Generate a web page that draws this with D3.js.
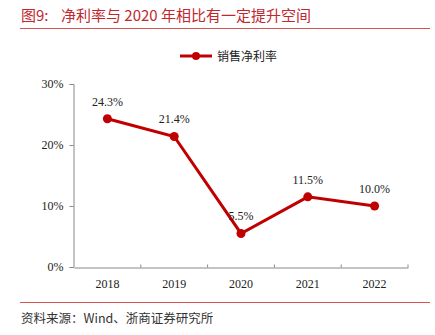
<!DOCTYPE html>
<html>
<head>
<meta charset="utf-8">
<script src="https://cdn.jsdelivr.net/npm/d3@7"></script>
<style>
  body { margin: 0; background: #fff; }
  text { font-family: "Liberation Serif", "Noto Serif CJK SC", "Noto Sans CJK SC", serif; }
</style>
</head>
<body>
<script>
var w = 435;
var h = 335;

var years = ["2018", "2019", "2020", "2021", "2022"];
var netMargin = [24.3, 21.4, 5.5, 11.5, 10.0];
var yTicks = [0, 10, 20, 30];
var seriesName = "销售净利率";
var red = "#c00000";

var svg = d3.select("body").append("svg").attr("width", w).attr("height", h);

// title + rules
svg.append("text").attr("x", 21).attr("y", 21)
    .style("font-size", "15px").style("fill", "#c0282d")
    .style("font-family", "'Noto Sans CJK SC', sans-serif")
    .text("图9:");
svg.append("text").attr("x", 61).attr("y", 21)
    .style("font-size", "15px").style("fill", "#c0282d")
    .style("font-family", "'Noto Sans CJK SC', sans-serif")
    .text("净利率与 2020 年相比有一定提升空间");
svg.append("line").attr("x1", 20).attr("x2", 430).attr("y1", 28.5).attr("y2", 28.5)
    .style("stroke", "#d9534f").style("stroke-width", 1);
svg.append("line").attr("x1", 20).attr("x2", 430).attr("y1", 302.5).attr("y2", 302.5)
    .style("stroke", "#d9534f").style("stroke-width", 1);
svg.append("text").attr("x", 21).attr("y", 323)
    .style("font-size", "12.5px").style("fill", "#333")
    .style("font-family", "'Noto Sans CJK SC', sans-serif")
    .text("资料来源：Wind、浙商证券研究所");

var x = d3.scaleBand().domain(years).range([74, 408]);
var y = d3.scaleLinear().domain([0, 30]).range([267, 84]);

var xAxis = svg.append("g").attr("transform", "translate(0,267.5)")
    .call(d3.axisBottom(x).tickSize(0).tickPadding(12));
xAxis.select(".domain").style("stroke", "#888");
xAxis.selectAll("text").style("font-size", "12px").style("fill", "#222")
    .style("font-family", "'Liberation Serif', serif");
xAxis.selectAll(".sep").data(years).enter().append("line")
    .attr("x1", function (d) { return x(d) + x.bandwidth(); })
    .attr("x2", function (d) { return x(d) + x.bandwidth(); })
    .attr("y1", 0).attr("y2", -3).style("stroke", "#888");

var yAxis = svg.append("g").attr("transform", "translate(73.5,0)")
    .call(d3.axisLeft(y).tickValues(yTicks).tickSize(4).tickPadding(6)
        .tickFormat(function (d) { return d + "%"; }));
yAxis.select(".domain").style("stroke", "#888");
yAxis.selectAll("line").style("stroke", "#888");
yAxis.selectAll("text").style("font-size", "12px").style("fill", "#222")
    .style("font-family", "'Liberation Serif', serif");

var cx = function (d, i) { return x(years[i]) + x.bandwidth() / 2; };

var line = d3.line()
    .x(function (d, i) { return cx(d, i); })
    .y(function (d) { return y(d); });

svg.append("path").datum(netMargin).attr("d", line)
    .style("fill", "none").style("stroke", red).style("stroke-width", 3);

svg.selectAll("circle.pt").data(netMargin).enter().append("circle")
    .attr("class", "pt")
    .attr("cx", cx).attr("cy", function (d) { return y(d); })
    .attr("r", 4.5).style("fill", red);

svg.selectAll("text.lbl").data(netMargin).enter().append("text")
    .attr("class", "lbl")
    .attr("x", cx).attr("y", function (d) { return y(d) - 13; })
    .attr("text-anchor", "middle")
    .style("font-size", "12px").style("fill", "#222")
    .style("font-family", "'Liberation Serif', serif")
    .text(function (d) { return d.toFixed(1) + "%"; });

// legend
var lg = svg.append("g").attr("transform", "translate(180,56)");
lg.append("line").attr("x1", 0).attr("x2", 32).attr("y1", 0).attr("y2", 0)
    .style("stroke", red).style("stroke-width", 3);
lg.append("circle").attr("cx", 16).attr("cy", 0).attr("r", 4).style("fill", red);
lg.append("text").attr("x", 37).attr("y", 4.5)
    .style("font-size", "12px").style("fill", "#222")
    .style("font-family", "'Noto Sans CJK SC', sans-serif")
    .text(seriesName);
</script>
</body>
</html>
